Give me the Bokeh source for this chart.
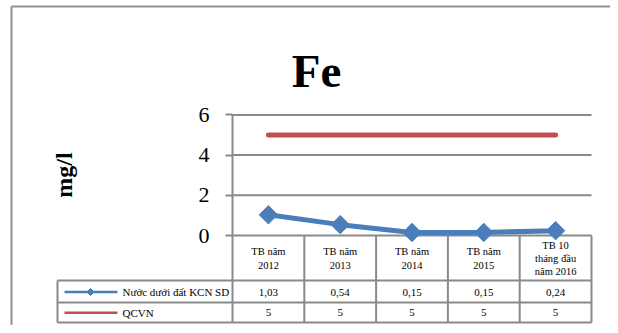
import numpy as np
from bokeh.plotting import figure
from bokeh.models import Range1d, LinearAxis, FixedTicker
from bokeh.core.properties import value
from bokeh.embed import file_html
from bokeh.resources import INLINE

# ---- data ----
title_text = "Fe"
y_label = "mg/l"
categories = ["TB năm\n2012", "TB năm\n2013", "TB năm\n2014", "TB năm\n2015",
              "TB 10\ntháng đầu\nnăm 2016"]
series_names = ["Nước dưới đất KCN SD", "QCVN"]
fe_values = [1.03, 0.54, 0.15, 0.15, 0.24]
qcvn_values = [5, 5, 5, 5, 5]
y_ticks = [0, 2, 4, 6]

# ---- layout (pixel geometry) ----
W, H = 610, 325
PX_X = 71.8          # pixels per category cell
PX_Y = 20.1          # pixels per mg/l
AX_X, AX_Y = 232, 235  # pixel position of data origin

def dx(fx):
    return (fx - AX_X) / PX_X

def dy(fy):
    return (AX_Y - fy) / PX_Y

FONT = value("Liberation Serif")
GRID = "#8a8a8a"
BLUE = "#4a7ebb"
RED = "#c0504d"

p = figure(width=W, height=H, x_range=Range1d(dx(0), dx(W)), y_range=Range1d(dy(H), dy(0)),
           x_axis_type=None, y_axis_type=None, toolbar_location=None,
           output_backend="svg", min_border=0, outline_line_color=None)

n = len(categories)
xc = [i + 0.5 for i in range(n)]

# outer chart border (left and top)
p.segment(x0=[dx(11), dx(11)], y0=[dy(6), dy(6)], x1=[dx(11), dx(W)], y1=[dy(H), dy(6)],
          line_color="#8f8f8f", line_width=2)

# title
p.text(x=[dx(316)], y=[dy(70)], text=[title_text], text_font=FONT, text_font_size="47px",
       text_font_style="bold", text_align="center", text_baseline="alphabetic", text_color="black")

# horizontal grid lines
p.segment(x0=[0] * len(y_ticks), x1=[n] * len(y_ticks), y0=y_ticks, y1=y_ticks,
          line_color=GRID, line_width=2)

# data table grid
row_bottoms = [dy(280), dy(302), dy(322)]
leg_left = dx(57)
p.segment(x0=list(range(n + 1)), x1=list(range(n + 1)), y0=[0] * (n + 1), y1=[row_bottoms[-1]] * (n + 1),
          line_color=GRID, line_width=2)
p.segment(x0=[leg_left] * 3, x1=[n] * 3, y0=row_bottoms, y1=row_bottoms, line_color=GRID, line_width=2)
p.segment(x0=[leg_left], x1=[leg_left], y0=[row_bottoms[0]], y1=[row_bottoms[-1]],
          line_color=GRID, line_width=2)

# category labels
p.text(x=xc, y=[dy(258)] * n, text=categories, text_font=FONT, text_font_size="10.5px",
       text_align="center", text_baseline="middle", text_line_height=1.2, text_color="black")

# table values
row_y = [dy(291.5), dy(312.3)]
fmt = lambda v: (f"{v:.2f}".replace(".", ",") if v != int(v) else str(int(v)))
p.text(x=xc, y=[row_y[0]] * n, text=[fmt(v) for v in fe_values], text_font=FONT, text_font_size="11px",
       text_align="center", text_baseline="middle", text_color="black")
p.text(x=xc, y=[row_y[1]] * n, text=[fmt(v) for v in qcvn_values], text_font=FONT, text_font_size="11px",
       text_align="center", text_baseline="middle", text_color="black")

# legend keys in table
p.segment(x0=[dx(64)], x1=[dx(117)], y0=[row_y[0]], y1=[row_y[0]], line_color=BLUE, line_width=2.5)
p.scatter(x=[dx(90)], y=[row_y[0]], marker="square", angle=np.pi / 4, size=5, color=BLUE)
p.segment(x0=[dx(64)], x1=[dx(117)], y0=[row_y[1]], y1=[row_y[1]], line_color=RED, line_width=2.5)
p.text(x=[dx(122)] * 2, y=row_y, text=series_names, text_font=FONT, text_font_size="11px",
       text_align="left", text_baseline="middle", text_color="black")

# series
p.line(xc, qcvn_values, line_color=RED, line_width=5, line_cap="round")
p.line(xc, fe_values, line_color=BLUE, line_width=5)
p.scatter(xc, fe_values, marker="square", angle=np.pi / 4, size=13, color=BLUE)

# y axis
yaxis = LinearAxis(fixed_location=0, bounds=(0, 6), ticker=FixedTicker(ticks=y_ticks),
                   axis_label=y_label)
yaxis.axis_line_color = GRID
yaxis.axis_line_width = 2
yaxis.major_tick_line_color = GRID
yaxis.major_tick_line_width = 2
yaxis.major_tick_out = 7
yaxis.major_tick_in = 0
yaxis.minor_tick_line_color = None
yaxis.major_label_text_font = "Liberation Serif"
yaxis.major_label_text_font_size = "22px"
yaxis.major_label_text_color = "black"
yaxis.major_label_standoff = 16
yaxis.axis_label_text_font = "Liberation Serif"
yaxis.axis_label_text_font_size = "24px"
yaxis.axis_label_text_font_style = "bold"
yaxis.axis_label_text_color = "black"
yaxis.axis_label_standoff = 119
p.add_layout(yaxis, "left")

open("out.html", "w").write(file_html(p, INLINE))
